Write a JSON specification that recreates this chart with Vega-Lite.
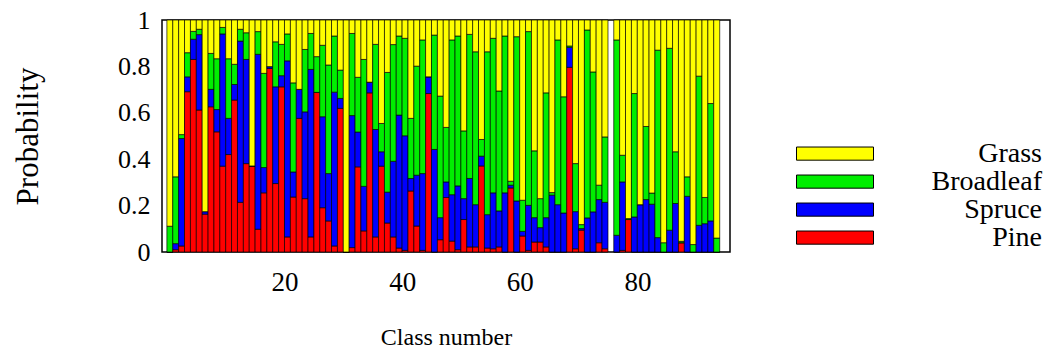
{
  "$schema": "https://vega.github.io/schema/vega-lite/v6.json",
  "width": 568,
  "height": 232,
  "autosize": "none",
  "padding": {"left": 162, "top": 20, "right": 322, "bottom": 99},
  "background": "white",
  "config": {"view": {"stroke": "black", "strokeWidth": 1.5}, "font": "Liberation Serif"},
  "data": {"values": [
    {"c":1,"Pine":0,"Spruce":0,"Broadleaf":0.111,"Grass":0.889},
    {"c":2,"Pine":0.01,"Spruce":0.026,"Broadleaf":0.288,"Grass":0.676},
    {"c":3,"Pine":0.026,"Spruce":0.463,"Broadleaf":0.017,"Grass":0.494},
    {"c":4,"Pine":0.691,"Spruce":0.064,"Broadleaf":0.104,"Grass":0.141},
    {"c":5,"Pine":0.83,"Spruce":0.087,"Broadleaf":0.034,"Grass":0.049},
    {"c":6,"Pine":0.612,"Spruce":0.325,"Broadleaf":0.023,"Grass":0.04},
    {"c":7,"Pine":0.163,"Spruce":0.011,"Broadleaf":0,"Grass":0.826},
    {"c":8,"Pine":0.626,"Spruce":0.075,"Broadleaf":0.155,"Grass":0.144},
    {"c":9,"Pine":0.518,"Spruce":0.096,"Broadleaf":0.219,"Grass":0.167},
    {"c":10,"Pine":0.37,"Spruce":0.57,"Broadleaf":0.028,"Grass":0.032},
    {"c":11,"Pine":0.42,"Spruce":0.156,"Broadleaf":0.257,"Grass":0.167},
    {"c":12,"Pine":0.655,"Spruce":0.067,"Broadleaf":0.087,"Grass":0.191},
    {"c":13,"Pine":0.214,"Spruce":0.695,"Broadleaf":0.051,"Grass":0.04},
    {"c":14,"Pine":0.381,"Spruce":0.449,"Broadleaf":0.115,"Grass":0.055},
    {"c":15,"Pine":0.371,"Spruce":0,"Broadleaf":0,"Grass":0.629},
    {"c":16,"Pine":0.098,"Spruce":0.754,"Broadleaf":0.098,"Grass":0.05},
    {"c":17,"Pine":0.255,"Spruce":0.109,"Broadleaf":0.406,"Grass":0.23},
    {"c":18,"Pine":0.791,"Spruce":0.008,"Broadleaf":0,"Grass":0.201},
    {"c":19,"Pine":0.295,"Spruce":0.417,"Broadleaf":0.194,"Grass":0.094},
    {"c":20,"Pine":0.712,"Spruce":0.048,"Broadleaf":0.135,"Grass":0.105},
    {"c":21,"Pine":0.065,"Spruce":0.759,"Broadleaf":0.116,"Grass":0.06},
    {"c":22,"Pine":0.237,"Spruce":0.108,"Broadleaf":0.384,"Grass":0.271},
    {"c":23,"Pine":0.576,"Spruce":0.125,"Broadleaf":0,"Grass":0.299},
    {"c":24,"Pine":0.23,"Spruce":0.374,"Broadleaf":0.269,"Grass":0.127},
    {"c":25,"Pine":0.065,"Spruce":0.722,"Broadleaf":0.155,"Grass":0.058},
    {"c":26,"Pine":0.688,"Spruce":0,"Broadleaf":0.154,"Grass":0.158},
    {"c":27,"Pine":0.191,"Spruce":0.392,"Broadleaf":0.308,"Grass":0.109},
    {"c":28,"Pine":0.134,"Spruce":0.204,"Broadleaf":0.468,"Grass":0.194},
    {"c":29,"Pine":0.026,"Spruce":0.663,"Broadleaf":0.242,"Grass":0.069},
    {"c":30,"Pine":0.619,"Spruce":0.043,"Broadleaf":0.122,"Grass":0.216},
    {"c":31,"Pine":0,"Spruce":0,"Broadleaf":0,"Grass":1},
    {"c":32,"Pine":0.019,"Spruce":0.569,"Broadleaf":0.354,"Grass":0.058},
    {"c":33,"Pine":0.367,"Spruce":0.15,"Broadleaf":0.236,"Grass":0.247},
    {"c":34,"Pine":0.091,"Spruce":0.192,"Broadleaf":0.547,"Grass":0.17},
    {"c":35,"Pine":0.686,"Spruce":0.046,"Broadleaf":0,"Grass":0.268},
    {"c":36,"Pine":0.065,"Spruce":0.463,"Broadleaf":0.367,"Grass":0.105},
    {"c":37,"Pine":0.37,"Spruce":0.062,"Broadleaf":0.122,"Grass":0.446},
    {"c":38,"Pine":0.125,"Spruce":0.133,"Broadleaf":0.516,"Grass":0.226},
    {"c":39,"Pine":0.065,"Spruce":0.326,"Broadleaf":0.503,"Grass":0.106},
    {"c":40,"Pine":0.017,"Spruce":0.573,"Broadleaf":0.341,"Grass":0.069},
    {"c":41,"Pine":0.007,"Spruce":0.494,"Broadleaf":0.42,"Grass":0.079},
    {"c":42,"Pine":0.263,"Spruce":0.054,"Broadleaf":0.259,"Grass":0.424},
    {"c":43,"Pine":0.112,"Spruce":0.219,"Broadleaf":0.47,"Grass":0.199},
    {"c":44,"Pine":0.007,"Spruce":0.331,"Broadleaf":0.576,"Grass":0.086},
    {"c":45,"Pine":0.683,"Spruce":0.072,"Broadleaf":0,"Grass":0.245},
    {"c":46,"Pine":0,"Spruce":0.442,"Broadleaf":0.493,"Grass":0.065},
    {"c":47,"Pine":0.053,"Spruce":0.095,"Broadleaf":0.524,"Grass":0.328},
    {"c":48,"Pine":0.235,"Spruce":0.067,"Broadleaf":0.235,"Grass":0.463},
    {"c":49,"Pine":0.047,"Spruce":0.2,"Broadleaf":0.667,"Grass":0.086},
    {"c":50,"Pine":0.01,"Spruce":0.275,"Broadleaf":0.646,"Grass":0.069},
    {"c":51,"Pine":0.14,"Spruce":0.09,"Broadleaf":0.292,"Grass":0.478},
    {"c":52,"Pine":0.022,"Spruce":0.295,"Broadleaf":0.621,"Grass":0.062},
    {"c":53,"Pine":0.022,"Spruce":0.182,"Broadleaf":0.659,"Grass":0.137},
    {"c":54,"Pine":0.371,"Spruce":0.042,"Broadleaf":0.072,"Grass":0.515},
    {"c":55,"Pine":0.017,"Spruce":0.144,"Broadleaf":0.702,"Grass":0.137},
    {"c":56,"Pine":0.014,"Spruce":0.241,"Broadleaf":0.666,"Grass":0.079},
    {"c":57,"Pine":0.022,"Spruce":0.155,"Broadleaf":0.517,"Grass":0.306},
    {"c":58,"Pine":0,"Spruce":0.255,"Broadleaf":0.676,"Grass":0.069},
    {"c":59,"Pine":0.276,"Spruce":0.012,"Broadleaf":0.017,"Grass":0.695},
    {"c":60,"Pine":0,"Spruce":0.22,"Broadleaf":0.708,"Grass":0.072},
    {"c":61,"Pine":0.069,"Spruce":0.02,"Broadleaf":0.134,"Grass":0.777},
    {"c":62,"Pine":0.007,"Spruce":0.194,"Broadleaf":0.749,"Grass":0.05},
    {"c":63,"Pine":0.043,"Spruce":0.105,"Broadleaf":0.288,"Grass":0.564},
    {"c":64,"Pine":0.043,"Spruce":0.062,"Broadleaf":0.125,"Grass":0.77},
    {"c":65,"Pine":0.022,"Spruce":0.126,"Broadleaf":0.538,"Grass":0.314},
    {"c":66,"Pine":0,"Spruce":0.245,"Broadleaf":0.011,"Grass":0.744},
    {"c":67,"Pine":0,"Spruce":0.204,"Broadleaf":0.71,"Grass":0.086},
    {"c":68,"Pine":0,"Spruce":0.168,"Broadleaf":0.501,"Grass":0.331},
    {"c":69,"Pine":0.796,"Spruce":0.086,"Broadleaf":0.006,"Grass":0.112},
    {"c":70,"Pine":0.014,"Spruce":0.16,"Broadleaf":0.207,"Grass":0.619},
    {"c":71,"Pine":0.094,"Spruce":0.007,"Broadleaf":0.017,"Grass":0.882},
    {"c":72,"Pine":0,"Spruce":0.147,"Broadleaf":0.81,"Grass":0.043},
    {"c":73,"Pine":0,"Spruce":0.173,"Broadleaf":0.603,"Grass":0.224},
    {"c":74,"Pine":0.04,"Spruce":0.186,"Broadleaf":0.062,"Grass":0.712},
    {"c":75,"Pine":0.014,"Spruce":0.2,"Broadleaf":0.282,"Grass":0.504},
    {"c":77,"Pine":0,"Spruce":0.072,"Broadleaf":0.842,"Grass":0.086},
    {"c":78,"Pine":0.007,"Spruce":0.295,"Broadleaf":0.115,"Grass":0.583},
    {"c":79,"Pine":0.14,"Spruce":0,"Broadleaf":0.004,"Grass":0.856},
    {"c":80,"Pine":0,"Spruce":0.151,"Broadleaf":0.532,"Grass":0.317},
    {"c":81,"Pine":0,"Spruce":0.204,"Broadleaf":0,"Grass":0.796},
    {"c":82,"Pine":0,"Spruce":0.226,"Broadleaf":0.315,"Grass":0.459},
    {"c":83,"Pine":0,"Spruce":0.206,"Broadleaf":0.048,"Grass":0.746},
    {"c":84,"Pine":0,"Spruce":0.062,"Broadleaf":0.808,"Grass":0.13},
    {"c":85,"Pine":0,"Spruce":0,"Broadleaf":0.04,"Grass":0.96},
    {"c":86,"Pine":0,"Spruce":0.094,"Broadleaf":0.784,"Grass":0.122},
    {"c":87,"Pine":0,"Spruce":0.209,"Broadleaf":0.223,"Grass":0.568},
    {"c":88,"Pine":0.04,"Spruce":0,"Broadleaf":0.006,"Grass":0.954},
    {"c":89,"Pine":0,"Spruce":0.24,"Broadleaf":0.084,"Grass":0.676},
    {"c":90,"Pine":0,"Spruce":0,"Broadleaf":0.032,"Grass":0.968},
    {"c":91,"Pine":0,"Spruce":0.115,"Broadleaf":0.643,"Grass":0.242},
    {"c":92,"Pine":0,"Spruce":0.122,"Broadleaf":0.113,"Grass":0.765},
    {"c":93,"Pine":0,"Spruce":0.134,"Broadleaf":0.506,"Grass":0.36},
    {"c":94,"Pine":0,"Spruce":0,"Broadleaf":0.06,"Grass":0.94}
  ]},
  "transform": [
    {"fold": ["Pine", "Spruce", "Broadleaf", "Grass"], "as": ["type", "p"]},
    {"window": [{"op": "row_number", "as": "k"}], "groupby": ["c"]}
  ],
  "mark": {"type": "bar", "width": 6, "xOffset": -3, "stroke": "black", "strokeWidth": 0.8, "strokeOpacity": 0.85},
  "encoding": {
    "x": {
      "field": "c", "type": "quantitative",
      "scale": {"domain": [0, 94.9], "nice": false, "zero": false},
      "axis": {"values": [20, 40, 60, 80], "title": "Class number", "grid": false, "domain": false, "ticks": false, "tickSize": 0,
        "labelFontSize": 27, "labelFont": "Liberation Serif", "labelColor": "black", "labelPadding": 30, "labelBaseline": "middle", "labelFlush": false,
        "titleFontSize": 24, "titleFont": "Liberation Serif", "titleFontWeight": "normal", "titleColor": "black", "titleY": 85, "titleBaseline": "middle"}
    },
    "y": {
      "field": "p", "type": "quantitative", "stack": "zero",
      "scale": {"domain": [0, 1], "nice": false},
      "axis": {"values": [0, 0.2, 0.4, 0.6, 0.8, 1], "format": "~g", "title": "Probability", "grid": false, "domain": false, "ticks": false, "tickSize": 0,
        "labelFontSize": 26, "labelFont": "Liberation Serif", "labelColor": "black", "labelPadding": 12, "labelBaseline": "middle", "labelFlush": false,
        "titleFontSize": 31, "titleFont": "Liberation Serif", "titleFontWeight": "normal", "titleColor": "black", "titleX": -134, "titleBaseline": "middle", "titleAngle": 270}
    },
    "order": {"field": "k", "type": "quantitative", "sort": "ascending"},
    "color": {
      "field": "type", "type": "nominal",
      "sort": ["Grass", "Broadleaf", "Spruce", "Pine"],
      "scale": {"domain": ["Grass", "Broadleaf", "Spruce", "Pine"], "range": ["#ffff00", "#00ee00", "#0000ff", "#ff0000"]},
      "legend": {"title": null, "orient": "none", "legendX": 659, "legendY": 119.6, "padding": 0, "rowPadding": 0,
        "symbolType": "M-5.5,-0.94H5.5V0.94H-5.5Z", "symbolSize": 196, "symbolStrokeColor": "black", "symbolStrokeWidth": 1, "symbolOpacity": 1,
        "labelAlign": "right", "labelOffset": 193, "labelFontSize": 28, "labelFont": "Liberation Serif", "labelColor": "black", "labelLimit": 300}
    }
  }
}
